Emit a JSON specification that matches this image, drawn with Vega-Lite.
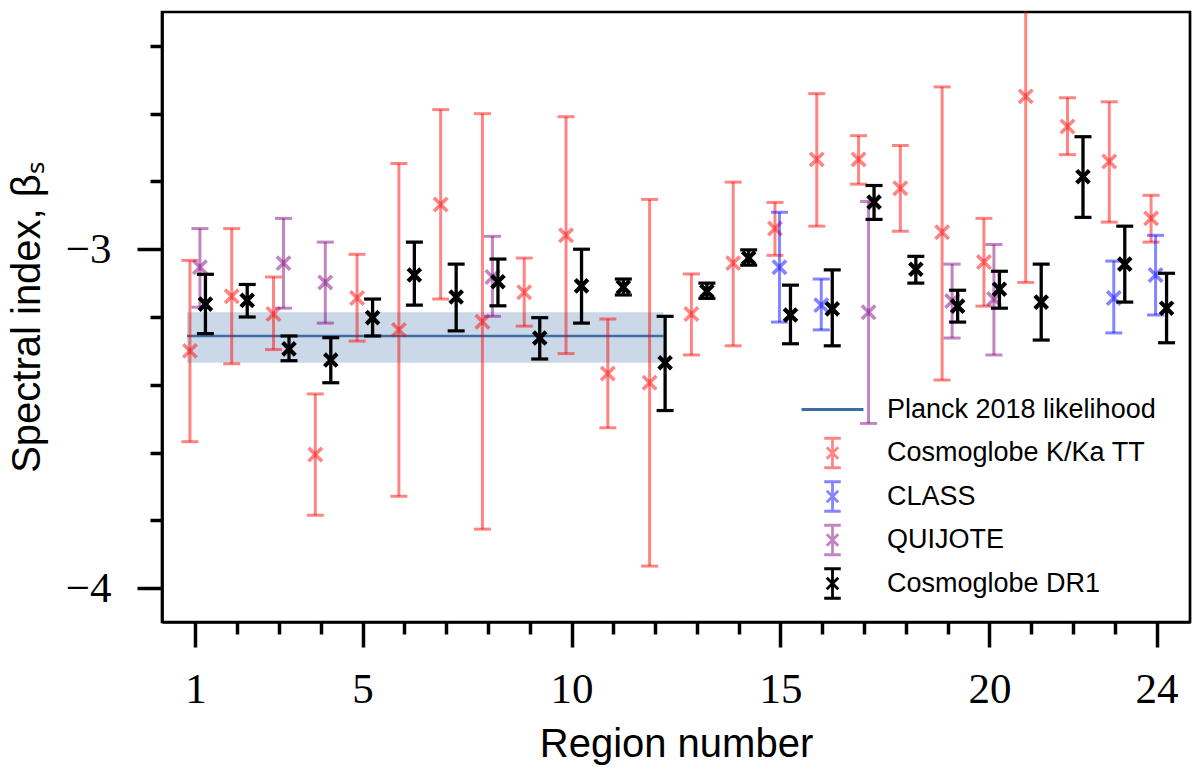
{
  "$schema": "https://vega.github.io/schema/vega-lite/v6.json",
  "width": 1028,
  "height": 610,
  "autosize": {"type": "none"},
  "padding": {"left": 162, "top": 12, "right": 10, "bottom": 152},
  "background": "white",
  "datasets": {
    "planck": [{"region": 0.8, "region2": 12.2, "mean": -3.256, "lo": -3.335, "hi": -3.186}],
    "pts": [
      {"region": 1, "series": "Cosmoglobe K/Ka TT", "value": -3.300, "lo": -3.568, "hi": -3.033},
      {"region": 2, "series": "Cosmoglobe K/Ka TT", "value": -3.139, "lo": -3.338, "hi": -2.939},
      {"region": 3, "series": "Cosmoglobe K/Ka TT", "value": -3.191, "lo": -3.296, "hi": -3.082},
      {"region": 4, "series": "Cosmoglobe K/Ka TT", "value": -3.606, "lo": -3.785, "hi": -3.427},
      {"region": 5, "series": "Cosmoglobe K/Ka TT", "value": -3.144, "lo": -3.271, "hi": -3.015},
      {"region": 6, "series": "Cosmoglobe K/Ka TT", "value": -3.238, "lo": -3.729, "hi": -2.747},
      {"region": 7, "series": "Cosmoglobe K/Ka TT", "value": -2.868, "lo": -3.147, "hi": -2.588},
      {"region": 8, "series": "Cosmoglobe K/Ka TT", "value": -3.214, "lo": -3.826, "hi": -2.600},
      {"region": 9, "series": "Cosmoglobe K/Ka TT", "value": -3.127, "lo": -3.227, "hi": -3.026},
      {"region": 10, "series": "Cosmoglobe K/Ka TT", "value": -2.959, "lo": -3.308, "hi": -2.609},
      {"region": 11, "series": "Cosmoglobe K/Ka TT", "value": -3.367, "lo": -3.527, "hi": -3.206},
      {"region": 12, "series": "Cosmoglobe K/Ka TT", "value": -3.394, "lo": -3.935, "hi": -2.853},
      {"region": 13, "series": "Cosmoglobe K/Ka TT", "value": -3.191, "lo": -3.312, "hi": -3.073},
      {"region": 14, "series": "Cosmoglobe K/Ka TT", "value": -3.041, "lo": -3.285, "hi": -2.802},
      {"region": 15, "series": "Cosmoglobe K/Ka TT", "value": -2.939, "lo": -3.018, "hi": -2.862},
      {"region": 16, "series": "Cosmoglobe K/Ka TT", "value": -2.735, "lo": -2.932, "hi": -2.541},
      {"region": 17, "series": "Cosmoglobe K/Ka TT", "value": -2.735, "lo": -2.808, "hi": -2.665},
      {"region": 18, "series": "Cosmoglobe K/Ka TT", "value": -2.820, "lo": -2.947, "hi": -2.694},
      {"region": 19, "series": "Cosmoglobe K/Ka TT", "value": -2.950, "lo": -3.386, "hi": -2.521},
      {"region": 20, "series": "Cosmoglobe K/Ka TT", "value": -3.038, "lo": -3.168, "hi": -2.909},
      {"region": 21, "series": "Cosmoglobe K/Ka TT", "value": -2.549, "lo": -3.098, "hi": -2.000},
      {"region": 22, "series": "Cosmoglobe K/Ka TT", "value": -2.638, "lo": -2.721, "hi": -2.553},
      {"region": 23, "series": "Cosmoglobe K/Ka TT", "value": -2.741, "lo": -2.920, "hi": -2.565},
      {"region": 24, "series": "Cosmoglobe K/Ka TT", "value": -2.909, "lo": -2.979, "hi": -2.841},
      {"region": 15, "series": "CLASS", "value": -3.053, "lo": -3.215, "hi": -2.891},
      {"region": 16, "series": "CLASS", "value": -3.165, "lo": -3.238, "hi": -3.088},
      {"region": 23, "series": "CLASS", "value": -3.144, "lo": -3.247, "hi": -3.035},
      {"region": 24, "series": "CLASS", "value": -3.076, "lo": -3.194, "hi": -2.959},
      {"region": 1, "series": "QUIJOTE", "value": -3.053, "lo": -3.171, "hi": -2.939},
      {"region": 3, "series": "QUIJOTE", "value": -3.041, "lo": -3.174, "hi": -2.909},
      {"region": 4, "series": "QUIJOTE", "value": -3.098, "lo": -3.218, "hi": -2.979},
      {"region": 8, "series": "QUIJOTE", "value": -3.082, "lo": -3.198, "hi": -2.962},
      {"region": 17, "series": "QUIJOTE", "value": -3.186, "lo": -3.514, "hi": -2.859},
      {"region": 19, "series": "QUIJOTE", "value": -3.153, "lo": -3.262, "hi": -3.044},
      {"region": 20, "series": "QUIJOTE", "value": -3.147, "lo": -3.312, "hi": -2.986},
      {"region": 1, "series": "Cosmoglobe DR1", "value": -3.162, "lo": -3.249, "hi": -3.074},
      {"region": 2, "series": "Cosmoglobe DR1", "value": -3.151, "lo": -3.200, "hi": -3.104},
      {"region": 3, "series": "Cosmoglobe DR1", "value": -3.294, "lo": -3.329, "hi": -3.256},
      {"region": 4, "series": "Cosmoglobe DR1", "value": -3.327, "lo": -3.394, "hi": -3.261},
      {"region": 5, "series": "Cosmoglobe DR1", "value": -3.202, "lo": -3.256, "hi": -3.147},
      {"region": 6, "series": "Cosmoglobe DR1", "value": -3.076, "lo": -3.165, "hi": -2.979},
      {"region": 7, "series": "Cosmoglobe DR1", "value": -3.141, "lo": -3.241, "hi": -3.044},
      {"region": 8, "series": "Cosmoglobe DR1", "value": -3.096, "lo": -3.167, "hi": -3.029},
      {"region": 9, "series": "Cosmoglobe DR1", "value": -3.262, "lo": -3.324, "hi": -3.202},
      {"region": 10, "series": "Cosmoglobe DR1", "value": -3.108, "lo": -3.218, "hi": -3.000},
      {"region": 11, "series": "Cosmoglobe DR1", "value": -3.112, "lo": -3.135, "hi": -3.088},
      {"region": 12, "series": "Cosmoglobe DR1", "value": -3.335, "lo": -3.476, "hi": -3.198},
      {"region": 13, "series": "Cosmoglobe DR1", "value": -3.124, "lo": -3.145, "hi": -3.100},
      {"region": 14, "series": "Cosmoglobe DR1", "value": -3.026, "lo": -3.047, "hi": -3.002},
      {"region": 15, "series": "Cosmoglobe DR1", "value": -3.194, "lo": -3.279, "hi": -3.106},
      {"region": 16, "series": "Cosmoglobe DR1", "value": -3.176, "lo": -3.285, "hi": -3.061},
      {"region": 17, "series": "Cosmoglobe DR1", "value": -2.861, "lo": -2.912, "hi": -2.812},
      {"region": 18, "series": "Cosmoglobe DR1", "value": -3.059, "lo": -3.100, "hi": -3.021},
      {"region": 19, "series": "Cosmoglobe DR1", "value": -3.168, "lo": -3.215, "hi": -3.121},
      {"region": 20, "series": "Cosmoglobe DR1", "value": -3.118, "lo": -3.174, "hi": -3.065},
      {"region": 21, "series": "Cosmoglobe DR1", "value": -3.156, "lo": -3.268, "hi": -3.044},
      {"region": 22, "series": "Cosmoglobe DR1", "value": -2.786, "lo": -2.906, "hi": -2.668},
      {"region": 23, "series": "Cosmoglobe DR1", "value": -3.044, "lo": -3.156, "hi": -2.932},
      {"region": 24, "series": "Cosmoglobe DR1", "value": -3.174, "lo": -3.276, "hi": -3.071}
    ]
  },
  "encoding": {
    "x": {
      "field": "region", "type": "quantitative",
      "scale": {"domain": [0.2, 24.8], "nice": false, "zero": false},
      "axis": {
        "title": "Region number",
        "values": [1,2,3,4,5,6,7,8,9,10,11,12,13,14,15,16,17,18,19,20,21,22,23,24],
        "labelExpr": "indexof([1,5,10,15,20,24], datum.value) >= 0 ? datum.label : ''",
        "tickSize": {"condition": {"test": "indexof([1,5,10,15,20,24], datum.value) >= 0", "value": 25}, "value": 12},
        "labelPadding": 21,
        "titlePadding": 13
      }
    }
  },
  "layer": [
    {
      "data": {"name": "planck"},
      "mark": {"type": "rect", "color": "#3a6ea5", "opacity": 0.27},
      "encoding": {
        "x2": {"field": "region2"},
        "y": {
          "field": "lo", "type": "quantitative",
          "scale": {"domain": [-4.1, -2.3], "nice": false, "zero": false},
          "axis": {
            "title": "Spectral index, βₛ",
            "values": [-4, -3.8, -3.6, -3.4, -3.2, -3, -2.8, -2.6, -2.4],
            "labelExpr": "abs(datum.value + 3) < 1e-6 ? '−3' : (abs(datum.value + 4) < 1e-6 ? '−4' : '')",
            "tickSize": {"condition": {"test": "abs(datum.value - round(datum.value)) < 1e-6", "value": 25}, "value": 12},
            "labelPadding": 26,
            "titlePadding": 18
          }
        },
        "y2": {"field": "hi"}
      }
    },
    {
      "data": {"name": "planck"},
      "mark": {"type": "rule", "color": "#3a6ea5", "strokeWidth": 2.5},
      "encoding": {
        "x2": {"field": "region2"},
        "y": {"field": "mean", "type": "quantitative"}
      }
    },
    {
      "data": {"name": "pts"},
      "transform": [{"filter": {"field": "series", "equal": "Cosmoglobe K/Ka TT"}}],
      "layer": [
        {"mark": {"type": "rule", "color": "rgba(255,0,0,0.48)", "strokeWidth": 3, "xOffset": -5.5, "clip": true},
         "encoding": {"y": {"field": "lo", "type": "quantitative"}, "y2": {"field": "hi"}}},
        {"mark": {"type": "tick", "orient": "horizontal", "color": "rgba(255,0,0,0.48)", "opacity": 1, "size": 17, "thickness": 3, "xOffset": -5.5, "clip": true},
         "encoding": {"y": {"field": "lo", "type": "quantitative"}}},
        {"mark": {"type": "tick", "orient": "horizontal", "color": "rgba(255,0,0,0.48)", "opacity": 1, "size": 17, "thickness": 3, "xOffset": -5.5, "clip": true},
         "encoding": {"y": {"field": "hi", "type": "quantitative"}}},
        {"mark": {"type": "point", "shape": "M-1,-1L1,1M1,-1L-1,1", "filled": false, "size": 180, "strokeWidth": 3.6, "opacity": 1, "xOffset": -5.5, "clip": true, "color": "rgba(255,0,0,0.48)"},
         "encoding": {"y": {"field": "value", "type": "quantitative"}}}
      ]
    },
    {
      "data": {"name": "pts"},
      "transform": [{"filter": {"field": "series", "equal": "CLASS"}}],
      "layer": [
        {"mark": {"type": "rule", "color": "rgba(0,0,255,0.48)", "strokeWidth": 3, "xOffset": -1, "clip": true},
         "encoding": {"y": {"field": "lo", "type": "quantitative"}, "y2": {"field": "hi"}}},
        {"mark": {"type": "tick", "orient": "horizontal", "color": "rgba(0,0,255,0.48)", "opacity": 1, "size": 17, "thickness": 3, "xOffset": -1, "clip": true},
         "encoding": {"y": {"field": "lo", "type": "quantitative"}}},
        {"mark": {"type": "tick", "orient": "horizontal", "color": "rgba(0,0,255,0.48)", "opacity": 1, "size": 17, "thickness": 3, "xOffset": -1, "clip": true},
         "encoding": {"y": {"field": "hi", "type": "quantitative"}}},
        {"mark": {"type": "point", "shape": "M-1,-1L1,1M1,-1L-1,1", "filled": false, "size": 180, "strokeWidth": 3.6, "opacity": 1, "xOffset": -1, "clip": true, "color": "rgba(0,0,255,0.48)"},
         "encoding": {"y": {"field": "value", "type": "quantitative"}}}
      ]
    },
    {
      "data": {"name": "pts"},
      "transform": [{"filter": {"field": "series", "equal": "QUIJOTE"}}],
      "layer": [
        {"mark": {"type": "rule", "color": "rgba(128,0,128,0.48)", "strokeWidth": 3, "xOffset": 4.5, "clip": true},
         "encoding": {"y": {"field": "lo", "type": "quantitative"}, "y2": {"field": "hi"}}},
        {"mark": {"type": "tick", "orient": "horizontal", "color": "rgba(128,0,128,0.48)", "opacity": 1, "size": 17, "thickness": 3, "xOffset": 4.5, "clip": true},
         "encoding": {"y": {"field": "lo", "type": "quantitative"}}},
        {"mark": {"type": "tick", "orient": "horizontal", "color": "rgba(128,0,128,0.48)", "opacity": 1, "size": 17, "thickness": 3, "xOffset": 4.5, "clip": true},
         "encoding": {"y": {"field": "hi", "type": "quantitative"}}},
        {"mark": {"type": "point", "shape": "M-1,-1L1,1M1,-1L-1,1", "filled": false, "size": 180, "strokeWidth": 3.6, "opacity": 1, "xOffset": 4.5, "clip": true, "color": "rgba(128,0,128,0.48)"},
         "encoding": {"y": {"field": "value", "type": "quantitative"}}}
      ]
    },
    {
      "data": {"name": "pts"},
      "transform": [{"filter": {"field": "series", "equal": "Cosmoglobe DR1"}}],
      "layer": [
        {"mark": {"type": "rule", "color": "black", "strokeWidth": 3.3, "xOffset": 10, "clip": true},
         "encoding": {"y": {"field": "lo", "type": "quantitative"}, "y2": {"field": "hi"}}},
        {"mark": {"type": "tick", "orient": "horizontal", "color": "black", "opacity": 1, "size": 17, "thickness": 3.2, "xOffset": 10, "clip": true},
         "encoding": {"y": {"field": "lo", "type": "quantitative"}}},
        {"mark": {"type": "tick", "orient": "horizontal", "color": "black", "opacity": 1, "size": 17, "thickness": 3.2, "xOffset": 10, "clip": true},
         "encoding": {"y": {"field": "hi", "type": "quantitative"}}},
        {"mark": {"type": "point", "shape": "M-1,-1L1,1M1,-1L-1,1", "filled": false, "size": 160, "strokeWidth": 4.2, "opacity": 1, "xOffset": 10, "clip": true, "color": "black"},
         "encoding": {"y": {"field": "value", "type": "quantitative"}}}
      ]
    },
    {
      "data": {"name": "pts"},
      "transform": [{"filter": {"field": "series", "equal": "legend only"}}],
      "mark": {"type": "point", "filled": false, "opacity": 1, "strokeWidth": 2.8},
      "encoding": {
        "y": {"field": "value", "type": "quantitative"},
        "color": {"field": "series", "type": "nominal",
          "scale": {"domain": ["Planck 2018 likelihood", "Cosmoglobe K/Ka TT", "CLASS", "QUIJOTE", "Cosmoglobe DR1"],
                    "range": ["#3a6ea5", "rgba(255,0,0,0.48)", "rgba(0,0,255,0.48)", "rgba(128,0,128,0.48)", "black"]},
          "legend": {"title": null}},
        "shape": {"field": "series", "type": "nominal",
          "scale": {"domain": ["Planck 2018 likelihood", "Cosmoglobe K/Ka TT", "CLASS", "QUIJOTE", "Cosmoglobe DR1"],
                    "range": ["M0,-0.82M0,0.82M-1.72,0H1.72",
                              "M-0.46,-0.82H0.46M0,-0.82V0.82M-0.46,0.82H0.46M-0.32,-0.32L0.32,0.32M0.32,-0.32L-0.32,0.32",
                              "M-0.46,-0.82H0.46M0,-0.82V0.82M-0.46,0.82H0.46M-0.32,-0.32L0.32,0.32M0.32,-0.32L-0.32,0.32",
                              "M-0.46,-0.82H0.46M0,-0.82V0.82M-0.46,0.82H0.46M-0.32,-0.32L0.32,0.32M0.32,-0.32L-0.32,0.32",
                              "M-0.46,-0.82H0.46M0,-0.82V0.82M-0.46,0.82H0.46M-0.32,-0.32L0.32,0.32M0.32,-0.32L-0.32,0.32"]},
          "legend": {"title": null}}
      }
    }
  ],
  "config": {
    "view": {"stroke": "black", "strokeWidth": 2.7},
    "axis": {
      "grid": false,
      "domainColor": "black", "domainWidth": 2.7,
      "tickColor": "black", "tickWidth": 3.5,
      "labelColor": "black", "titleColor": "black",
      "labelFont": "Liberation Serif", "labelFontSize": 43,
      "titleFont": "Liberation Sans", "titleFontSize": 40, "titleFontWeight": "normal",
      "labelOverlap": false, "labelFlush": false
    },
    "legend": {
      "orient": "none", "legendX": 651, "legendY": 378, "direction": "vertical",
      "padding": 0, "symbolSize": 1296, "labelOffset": 35, "rowPadding": 2.5,
      "labelFont": "Liberation Sans", "labelFontSize": 27, "labelColor": "black", "labelLimit": 600,
      "symbolStrokeWidth": 2.8,
      "symbolFillColor": "transparent"
    }
  }
}
